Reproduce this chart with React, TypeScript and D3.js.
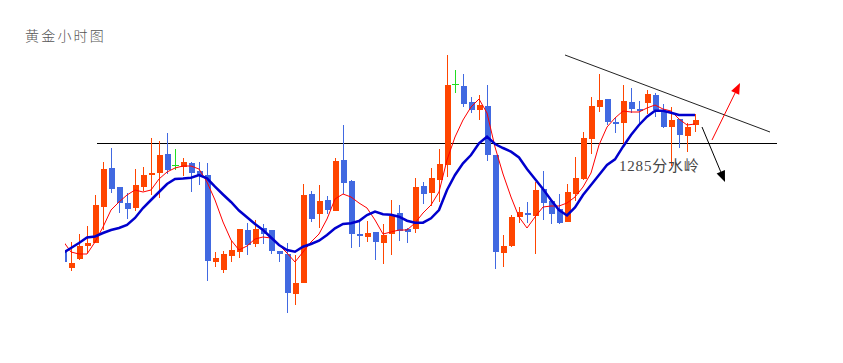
import React from "react";
import * as d3 from "d3";

// Candle index -1..78 (hourly bars), prices in USD
const startIndex = -1;
const opens = [1274.3,1272.5,1273.4,1274.7,1275.0,1278.6,1282.5,1280.6,1279.0,1278.5,1280.6,1281.8,1282.0,1283.9,1282.8,1282.6,1283.0,1282.2,1281.8,1273.1,1272.3,1273.7,1274.1,1276.3,1274.9,1276.5,1276.3,1274.2,1273.9,1269.9,1271.0,1279.9,1277.9,1279.3,1278.2,1283.3,1281.2,1275.9,1275.6,1276.1,1275.0,1275.9,1278.0,1276.4,1276.4,1280.7,1280.0,1281.3,1282.8,1290.9,1290.7,1289.1,1288.3,1288.7,1283.8,1274.0,1274.7,1277.6,1278.0,1277.7,1280.4,1279.2,1278.4,1277.1,1279.9,1281.4,1285.4,1288.6,1289.4,1287.1,1287.0,1289.1,1288.4,1289.0,1289.8,1288.2,1286.6,1287.4,1285.7,1286.8];
const highs = [1274.5,1275.1,1275.9,1276.7,1279.8,1283.1,1284.5,1280.6,1280.0,1282.4,1282.6,1285.5,1285.2,1286.0,1284.4,1283.5,1283.1,1283.1,1283.0,1274.1,1274.2,1275.2,1276.4,1277.0,1277.3,1276.9,1276.3,1274.2,1275.0,1273.8,1280.9,1280.2,1280.8,1279.7,1283.5,1286.8,1281.3,1277.1,1277.2,1276.1,1276.9,1279.3,1278.8,1276.5,1281.5,1281.1,1282.5,1284.4,1293.8,1292.3,1291.9,1289.6,1289.8,1290.8,1283.8,1275.8,1277.8,1278.6,1279.1,1281.1,1282.2,1279.2,1279.9,1280.9,1283.6,1286.1,1289.6,1291.9,1289.4,1287.5,1290.8,1290.5,1289.2,1290.3,1290.0,1288.9,1288.6,1287.4,1287.0,1287.9];
const lows = [1272.6,1272.2,1273.3,1274.0,1275.0,1276.3,1280.0,1278.0,1277.4,1278.2,1280.2,1279.8,1279.5,1281.9,1282.3,1281.7,1280.1,1280.8,1271.2,1272.6,1272.0,1273.1,1273.5,1273.8,1274.6,1274.9,1273.9,1273.1,1268.0,1268.8,1271.0,1277.1,1276.5,1277.9,1278.2,1279.9,1274.5,1274.6,1275.1,1273.3,1272.9,1273.8,1275.2,1275.0,1276.0,1278.9,1278.7,1279.1,1281.6,1290.0,1288.6,1288.0,1287.3,1283.2,1272.4,1272.6,1274.6,1277.0,1277.0,1273.9,1277.3,1276.9,1276.9,1277.1,1279.2,1281.3,1283.9,1288.1,1286.8,1286.0,1284.9,1288.0,1286.8,1287.9,1287.6,1286.5,1282.7,1284.5,1284.1,1286.1];
const closes = [1273.1,1273.0,1274.7,1275.0,1278.8,1282.4,1280.4,1279.0,1278.4,1280.8,1281.8,1282.0,1283.8,1282.3,1282.8,1283.1,1282.0,1281.8,1273.2,1273.5,1273.9,1274.3,1276.4,1274.8,1276.4,1275.9,1274.2,1273.9,1270.0,1271.0,1279.8,1277.4,1279.2,1278.3,1283.2,1281.0,1275.9,1275.7,1276.0,1275.1,1275.8,1277.7,1276.2,1276.1,1280.6,1279.9,1281.5,1282.9,1290.8,1290.9,1288.9,1288.3,1288.8,1283.8,1274.1,1274.7,1277.6,1278.1,1277.8,1280.3,1279.0,1277.9,1277.0,1280.1,1281.5,1285.5,1288.7,1289.3,1287.1,1286.9,1289.2,1288.4,1288.2,1289.9,1288.3,1286.6,1287.3,1285.8,1286.6,1287.3];

// Moving averages (fast red, slow blue)
const maFast = [1275.2,1274.1,1273.9,1273.9,1275.1,1276.6,1278.3,1279.1,1279.8,1280.3,1280.1,1280.3,1281.4,1282.1,1282.5,1282.7,1282.7,1282.4,1281.1,1279.3,1277.1,1275.3,1274.3,1274.7,1275.4,1275.6,1275.5,1274.8,1274.0,1273.1,1274.1,1275.1,1275.9,1277.4,1279.4,1279.9,1279.6,1279.0,1278.5,1277.3,1275.9,1276.1,1276.3,1276.3,1277.0,1278.0,1278.8,1280.1,1283.3,1285.6,1287.3,1288.6,1289.4,1288.0,1284.6,1281.9,1279.6,1277.6,1276.5,1277.6,1278.6,1278.7,1278.7,1279.0,1279.6,1280.6,1282.0,1284.8,1286.6,1287.5,1288.2,1288.1,1288.1,1288.5,1288.8,1288.4,1288.2,1287.4,1286.8,1286.9];
const maSlow = [1274.0,1274.5,1275.0,1275.55,1275.65,1276.0,1276.3,1276.5,1276.8,1277.5,1278.5,1279.3,1280.1,1280.9,1281.4,1281.45,1281.53,1281.8,1281.47,1280.63,1279.85,1279.1,1278.25,1277.57,1276.9,1276.3,1275.55,1274.8,1274.3,1274.13,1274.63,1274.9,1275.23,1275.8,1276.47,1276.9,1276.97,1277.2,1277.8,1278.15,1277.87,1277.83,1277.63,1277.23,1277.03,1277.03,1277.47,1278.3,1280.3,1281.8,1282.97,1283.8,1284.97,1285.63,1284.9,1284.5,1284.13,1283.55,1282.4,1281.4,1280.4,1279.3,1278.3,1277.75,1278.55,1279.8,1280.8,1281.8,1282.8,1283.37,1284.63,1285.8,1286.8,1287.63,1288.23,1288.23,1288.03,1287.8,1287.8,1287.8];

// Annotations (index, price)
const keyLevel = 1285;
const keyLevelRange = [3.25, 88.25];
const trendLine = [[61.75, 1293.8], [87.375, 1286.1]];
const upArrow = [[80.125, 1285.3], [83.625, 1291.0]];
const downArrow = [[78.875, 1286.6], [81.75, 1281.1]];
const titleText = "黄金小时图";
const levelLabel = "1285分水岭";

const W = 843;
const H = 363;

export default function App() {
  const x = d3.scaleLinear().domain([0, 78]).range([71, 695]);
  const y = d3.scaleLinear().domain([1268, 1294]).range([313, 53]);

  const candles = opens.map((o, k) => ({
    i: k + startIndex,
    o,
    h: highs[k],
    l: lows[k],
    c: closes[k],
  }));

  const lineGen = d3
    .line<number>()
    .x((_, k) => x(k + startIndex))
    .y((d) => y(d));

  const arrowHead = (pts: number[][], color: string) => {
    const [x0, y0] = [x(pts[0][0]), y(pts[0][1])];
    const [x1, y1] = [x(pts[1][0]), y(pts[1][1])];
    const ang = Math.atan2(y1 - y0, x1 - x0);
    const len = 11;
    const half = 4.5;
    const bx = x1 - len * Math.cos(ang);
    const by = y1 - len * Math.sin(ang);
    const p1 = [bx + half * Math.sin(ang), by - half * Math.cos(ang)];
    const p2 = [bx - half * Math.sin(ang), by + half * Math.cos(ang)];
    return (
      <g>
        <line x1={x0} y1={y0} x2={bx} y2={by} stroke={color} strokeWidth={1} />
        <polygon points={`${x1},${y1} ${p1[0]},${p1[1]} ${p2[0]},${p2[1]}`} fill={color} />
      </g>
    );
  };

  return (
    <svg
      width={W}
      height={H}
      style={{ position: "absolute", left: 0, top: 0, background: "#fff" }}
    >
      <defs>
        <clipPath id="plotClip">
          <rect x={65} y={0} width={W - 65} height={H} />
        </clipPath>
      </defs>
      <rect x={0} y={0} width={W} height={H} fill="#fff" />
      <text
        x={25}
        y={41}
        fontSize={14}
        fill="#555"
        letterSpacing={2.2}
        fontFamily="'Noto Sans CJK SC', sans-serif"
        fontWeight={300}
      >
        {titleText}
      </text>

      <line
        x1={x(keyLevelRange[0])}
        x2={x(keyLevelRange[1])}
        y1={Math.round(y(keyLevel)) + 0.5}
        y2={Math.round(y(keyLevel)) + 0.5}
        stroke="#000"
        strokeWidth={1}
      />

      <g clipPath="url(#plotClip)">
        {candles.map((d) => {
          const cx = Math.round(x(d.i));
          const up = d.c > d.o;
          const doji = d.c === d.o;
          const color = doji ? "#22dd22" : up ? "#FF4500" : "#4169E1";
          const top = y(Math.max(d.o, d.c));
          const bot = y(Math.min(d.o, d.c));
          return (
            <g key={d.i} shapeRendering="crispEdges">
              <rect x={cx} y={y(d.h)} width={1} height={y(d.l) - y(d.h)} fill={color} />
              {doji ? (
                <rect x={cx - 3} y={top - 0.5} width={7} height={1} fill={color} />
              ) : (
                <rect x={cx - 2} y={top} width={6} height={Math.max(1, bot - top)} fill={color} />
              )}
            </g>
          );
        })}
        <path d={lineGen(maFast) || ""} fill="none" stroke="#FF0000" strokeWidth={1} />
        <path d={lineGen(maSlow) || ""} fill="none" stroke="#0000CD" strokeWidth={2.5} />
      </g>

      <line
        x1={x(trendLine[0][0])}
        y1={y(trendLine[0][1])}
        x2={x(trendLine[1][0])}
        y2={y(trendLine[1][1])}
        stroke="#222"
        strokeWidth={1}
      />
      {arrowHead(upArrow, "#FF0000")}
      {arrowHead(downArrow, "#000")}

      <text
        x={619}
        y={171}
        fontSize={15}
        fill="#444"
        letterSpacing={0.8}
        fontFamily="'Liberation Serif', 'Noto Sans CJK SC', serif"
      >
        {levelLabel}
      </text>
    </svg>
  );
}
